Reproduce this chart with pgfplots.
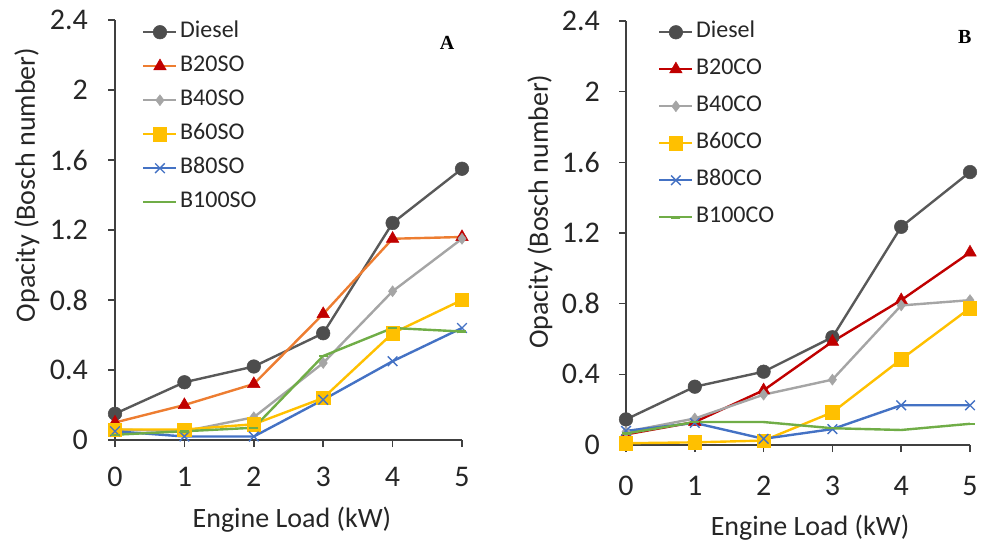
\documentclass[border=0pt]{standalone}
\usepackage{fontspec}
\setmainfont{Carlito}
\newfontfamily\serifb{Liberation Serif}
\usepackage{pgfplots}
\pgfplotsset{compat=1.18}
\definecolor{cDiesL}{HTML}{595959}
\definecolor{cDiesM}{HTML}{4D4D4D}
\definecolor{cOrange}{HTML}{ED7D31}
\definecolor{cRed}{HTML}{C00000}
\definecolor{cGray}{HTML}{A5A5A5}
\definecolor{cGold}{HTML}{FFC000}
\definecolor{cBlue}{HTML}{4472C4}
\definecolor{cGreen}{HTML}{70AD47}
\definecolor{cAxis}{HTML}{404040}
\pgfplotsset{
  panel/.style={
    scale only axis, clip=false,
    axis lines=left,
    axis line style={-, draw=cAxis, line width=1.6pt},
    tick style={draw=cAxis, line width=1.6pt},
    tick align=outside, major tick length=7pt,
    xmin=0, xmax=5, ymin=0, ymax=2.4,
    xtick={0,1,2,3,4,5},
    ytick={0,0.4,0.8,1.2,1.6,2,2.4},
    yticklabels={0,0.4,0.8,1.2,1.6,2,2.4},
    /pgf/number format/assume math mode=true,
    ticklabel style={font=\fontsize{30}{32}\selectfont, text=black!85},
    label style={font=\fontsize{28}{30}\selectfont, text=black!85},
    xlabel={Engine Load (kW)},
    ylabel={Opacity (Bosch number)},
    legend image code/.code={\draw[mark repeat=2,mark phase=2] plot coordinates {(0pt,0pt) (16.5pt,0pt) (33pt,0pt)};},
    legend cell align=left,
    every axis plot/.append style={line width=2.4pt},
  },
  sDies/.style={color=cDiesL, mark=*, mark size=6.8pt, mark options={draw=cDiesM, fill=cDiesM, line width=0.5pt}},
  sB20S/.style={color=cOrange, mark=triangle*, mark size=7.2pt, mark options={draw=cRed, fill=cRed, line width=0.5pt}},
  sB20C/.style={color=cRed, mark=triangle*, mark size=7.2pt, mark options={draw=cRed, fill=cRed, line width=0.5pt}},
  sB40/.style={color=cGray, mark=diamond*, mark size=5.5pt, mark options={draw=cGray, fill=cGray, line width=0.5pt}},
  sB60/.style={color=cGold, mark=square*, mark size=6.7pt, mark options={draw=cGold, fill=cGold, line width=0.5pt}},
  sB80/.style={color=cBlue, mark=x, mark size=6.8pt, mark options={draw=cBlue, line width=1.4pt}},
  sB100/.style={color=cGreen, mark=-, mark size=4.5pt, mark options={draw=cGreen, line width=2.5pt}},
}
\begin{document}
\begin{tikzpicture}[x=1pt,y=1pt]
\useasboundingbox (0,0) rectangle (982,542);
% Panel A
\begin{axis}[panel,
  at={(115pt,102pt)}, anchor=south west, width=347pt, height=420pt,
  xticklabel style={anchor=center, yshift=-30pt},
  yticklabel style={anchor=east, inner sep=0pt, xshift=-20pt},
  xlabel style={at={(axis description cs:0.51,-0.19)}, anchor=center},
  ylabel style={at={(axis description cs:-0.254,0.607)}, anchor=center, rotate=0},
  legend style={at={(axis description cs:0.078,0.9988)}, anchor=north west, draw=none, fill=none,
    font=\fontsize{24}{24}\selectfont, row sep=11pt, inner sep=0pt,
    nodes={inner xsep=2.5pt, inner ysep=0pt, text height=17pt, text depth=6pt, text=black!85}},
]
\addplot[sDies] coordinates {(0,0.15) (1,0.33) (2,0.42) (3,0.61) (4,1.24) (5,1.55)};
\addplot[sB20S] coordinates {(0,0.10) (1,0.20) (2,0.32) (3,0.72) (4,1.15) (5,1.16)};
\addplot[sB40] coordinates {(0,0.06) (1,0.05) (2,0.13) (3,0.44) (4,0.85) (5,1.15)};
\addplot[sB60] coordinates {(0,0.06) (1,0.06) (2,0.09) (3,0.24) (4,0.61) (5,0.80)};
\addplot[sB80] coordinates {(0,0.05) (1,0.02) (2,0.02) (3,0.23) (4,0.45) (5,0.64)};
\addplot[sB100] coordinates {(0,0.03) (1,0.05) (2,0.07) (3,0.48) (4,0.64) (5,0.62)};
\legend{Diesel,B20SO,B40SO,B60SO,B80SO,B100SO}
\node[font=\serifb\bfseries\fontsize{20}{21}\selectfont, text=black] at (axis description cs:0.957,0.945) {A};
\end{axis}
% Panel B
\begin{axis}[panel,
  at={(626pt,97pt)}, anchor=south west, width=344pt, height=424pt,
  xticklabel style={anchor=center, yshift=-34pt},
  yticklabel style={anchor=east, inner sep=0pt, xshift=-19pt},
  xlabel style={at={(axis description cs:0.535,-0.196)}, anchor=center},
  ylabel style={at={(axis description cs:-0.25,0.55)}, anchor=center, rotate=0},
  legend style={at={(axis description cs:0.093,1.001)}, anchor=north west, draw=none, fill=none,
    font=\fontsize{24}{24}\selectfont, row sep=14pt, inner sep=0pt,
    nodes={inner xsep=2.5pt, inner ysep=0pt, text height=17pt, text depth=6pt, text=black!85}},
]
\addplot[sDies] coordinates {(0,0.145) (1,0.33) (2,0.415) (3,0.61) (4,1.235) (5,1.545)};
\addplot[sB20C] coordinates {(0,0.06) (1,0.13) (2,0.31) (3,0.585) (4,0.82) (5,1.09)};
\addplot[sB40] coordinates {(0,0.075) (1,0.15) (2,0.285) (3,0.37) (4,0.79) (5,0.82)};
\addplot[sB60] coordinates {(0,0.01) (1,0.015) (2,0.025) (3,0.185) (4,0.485) (5,0.775)};
\addplot[sB80] coordinates {(0,0.08) (1,0.125) (2,0.035) (3,0.09) (4,0.225) (5,0.225)};
\addplot[sB100] coordinates {(0,0.065) (1,0.13) (2,0.13) (3,0.095) (4,0.085) (5,0.12)};
\legend{Diesel,B20CO,B40CO,B60CO,B80CO,B100CO}
\node[font=\serifb\bfseries\fontsize{20}{21}\selectfont, text=black] at (axis description cs:0.985,0.962) {B};
\end{axis}
\end{tikzpicture}
\end{document}
